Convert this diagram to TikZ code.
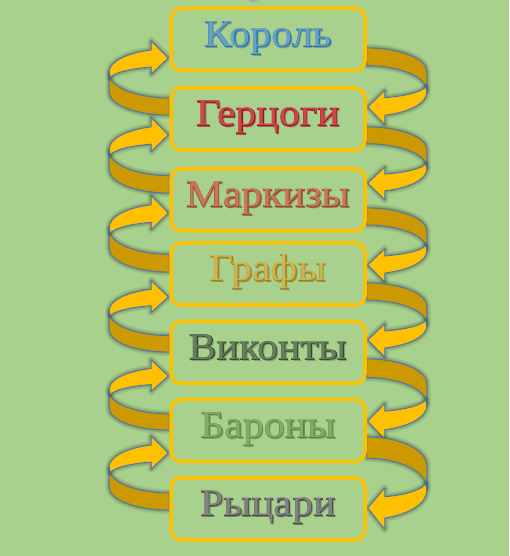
\documentclass[tikz,border=0pt]{standalone}
\usepackage{fontspec}
\setmainfont{Liberation Serif}
\newfontfamily\rankfont[FakeStretch=1.1]{Liberation Serif}
\newfontfamily\rankoutline[FakeStretch=1.1, FakeBold=2]{Liberation Serif}
\definecolor{bg}{RGB}{169,209,142}
\definecolor{boxline}{RGB}{255,192,0}
\definecolor{ribbright}{RGB}{255,192,0}
\definecolor{ribdark}{RGB}{204,153,0}
\definecolor{ribedge}{RGB}{68,114,196}
\definecolor{shd}{RGB}{132,160,112}
\definecolor{c1o}{RGB}{30,115,185}\definecolor{c1f}{RGB}{105,160,195}
\definecolor{c2o}{RGB}{160,20,30}\definecolor{c2f}{RGB}{205,70,75}
\definecolor{c3o}{RGB}{145,75,45}\definecolor{c3f}{RGB}{200,120,85}
\definecolor{c4o}{RGB}{165,130,20}\definecolor{c4f}{RGB}{205,180,80}
\definecolor{c5o}{RGB}{50,78,42}\definecolor{c5f}{RGB}{105,125,95}
\definecolor{c6o}{RGB}{80,135,50}\definecolor{c6f}{RGB}{135,170,100}
\definecolor{c7o}{RGB}{75,75,75}\definecolor{c7f}{RGB}{130,130,130}
\newcommand\fxtext[3]{%
 \rlap{\kern1.8pt\raisebox{-1.8pt}{\textcolor{shd}{#3}}}%
 \rlap{\rankoutline\textcolor{#1}{#3}}%
 \textcolor{#2}{#3}}
\newcommand\darkband[1]{%
 \draw[#1] (0,0) arc[start angle=270, end angle=180, x radius=60, y radius=23]
   -- (-60,41) arc[start angle=180, end angle=270, x radius=60, y radius=24] -- cycle;}
\newcommand\brightpart[1]{%
 \draw[#1] (-60,43) arc[start angle=180, end angle=107.5, x radius=60, y radius=23]
   -- (-18,74) -- (-1,57) -- (-18,41) -- (-18,48)
   arc[start angle=107.5, end angle=170, x radius=60, y radius=13.5] -- cycle;}
\newcommand\ribbonshape{%
 \darkband{glowa}\darkband{glowb}\darkband{glowc}%
 \darkband{ribpart, fill=ribdark}%
 \brightpart{glowa}\brightpart{glowb}\brightpart{glowc}%
 \brightpart{ribpart, fill=ribbright}}
\pgfdeclarelayer{bgl}\pgfdeclarelayer{back}
\pgfsetlayers{bgl,back,main}
\tikzset{
 rank/.style={draw=boxline, line width=3.5pt, rounded corners=10pt, fill=bg,
   minimum width=194pt, minimum height=62pt, inner sep=0pt,
   font=\rankfont\fontsize{38}{40}\selectfont, text height=24pt, text depth=10pt},
 ribpart/.style={draw=ribedge, line width=0.8pt, line join=round},
 glowa/.style={draw=black, draw opacity=0.07, line width=8pt, line join=round},
 glowb/.style={draw=black, draw opacity=0.09, line width=5pt, line join=round},
 glowc/.style={draw=black, draw opacity=0.12, line width=2.5pt, line join=round},
}
\begin{document}
\begin{tikzpicture}[x=1pt,y=1pt]
\begin{pgfonlayer}{bgl}
\useasboundingbox (0,0) rectangle (509,556);
\fill[bg] (0,0) rectangle (509,556);
\begin{scope}
\clip (0,0) rectangle (509,556);
\fill[gray!70] (253,558) ellipse (6 and 4);
\end{scope}
\end{pgfonlayer}
\node[rank] (b1) at (268,516.5) {\fxtext{c1o}{c1f}{Король}};
\node[rank] (b2) at (268,437) {\fxtext{c2o}{c2f}{Герцоги}};
\node[rank] (b3) at (268,356) {\fxtext{c3o}{c3f}{Маркизы}};
\node[rank] (b4) at (268,282) {\fxtext{c4o}{c4f}{Графы}};
\node[rank] (b5) at (268,203.5) {\fxtext{c5o}{c5f}{Виконты}};
\node[rank] (b6) at (268,125.5) {\fxtext{c6o}{c6f}{Бароны}};
\node[rank] (b7) at (268,47) {\fxtext{c7o}{c7f}{Рыцари}};
\begin{pgfonlayer}{back}
% left arrows: from lower box up to upper box
\begin{scope}[shift={(b2.west)}, yshift=4, yscale=1]\ribbonshape\end{scope}
\begin{scope}[shift={(b3.west)}, yshift=7, yscale=1.018]\ribbonshape\end{scope}
\begin{scope}[shift={(b4.west)}, yshift=2, yscale=1.035]\ribbonshape\end{scope}
\begin{scope}[shift={(b5.west)}, yshift=0.5, yscale=0.965]\ribbonshape\end{scope}
\begin{scope}[shift={(b6.west)}, yshift=0.5, yscale=0.947]\ribbonshape\end{scope}
\begin{scope}[shift={(b7.west)}, yshift=-1, yscale=1]\ribbonshape\end{scope}
% right arrows: from upper box down to lower box
\begin{scope}[shift={(b1.east)}, yshift=-8.5, rotate=180, yscale=1.035]\ribbonshape\end{scope}
\begin{scope}[shift={(b2.east)}, yshift=-8, rotate=180, yscale=0.982]\ribbonshape\end{scope}
\begin{scope}[shift={(b3.east)}, yshift=-8, rotate=180, yscale=1]\ribbonshape\end{scope}
\begin{scope}[shift={(b4.east)}, yshift=-9, rotate=180, yscale=1]\ribbonshape\end{scope}
\begin{scope}[shift={(b5.east)}, yshift=-6.5, rotate=180, yscale=1.088]\ribbonshape\end{scope}
\begin{scope}[shift={(b6.east)}, yshift=-6.5, rotate=180, yscale=1.246]\ribbonshape\end{scope}
\end{pgfonlayer}
\end{tikzpicture}
\end{document}
